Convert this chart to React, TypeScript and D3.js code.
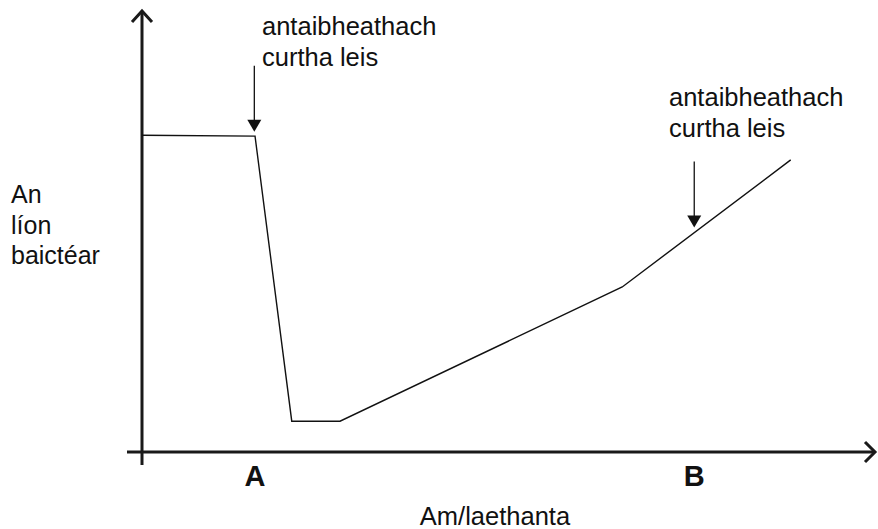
import React from "react";
import * as d3 from "d3";

const days = [0, 15.7, 20.8, 27.5, 66.7, 90.1];
const counts = [72, 71.8, 7, 7, 37.5, 66.4];
const doseDays = [15.6, 76.7];
const doseTipCounts = [72.8, 51];
const tickLabels = ["A", "B"];
const tickDays = [15.7, 76.7];
const doseLabel = ["antaibheathach", "curtha leis"];
const yLabel = ["An", "líon", "baictéar"];
const xLabel = "Am/laethanta";

const W = 878, H = 529;
const x = d3.scaleLinear().domain([0, 100]).range([142, 862]);
const y = d3.scaleLinear().domain([0, 100]).range([452, 12]);

export default function App() {
  const line = d3.line<number>().x((_, i) => x(days[i])).y((d) => y(d));
  const font = "Arial, 'Liberation Sans', Helvetica, sans-serif";
  return (
    <svg width={W} height={H} style={{ position: "absolute", left: 0, top: 0, background: "#fff" }} fontFamily={font}>
      {/* axes */}
      <line x1={x(0)} y1={465} x2={x(0)} y2={12} stroke="#1a1a1a" strokeWidth={3} />
      <polyline points={`${x(0) - 10},22 ${x(0)},11 ${x(0) + 10},22`} fill="none" stroke="#1a1a1a" strokeWidth={3} />
      <line x1={127} y1={y(0)} x2={874} y2={y(0)} stroke="#1a1a1a" strokeWidth={3} />
      <polyline points={`865,${y(0) - 10} 875,${y(0)} 865,${y(0) + 10}`} fill="none" stroke="#1a1a1a" strokeWidth={3} />
      {/* data line */}
      <path d={line(counts) || ""} fill="none" stroke="#111" strokeWidth={1.4} />
      {/* dose arrows */}
      {doseDays.map((d, i) => {
        const xx = x(d);
        const tip = y(doseTipCounts[i]);
        return (
          <g key={i}>
            <line x1={xx} y1={tip - 66} x2={xx} y2={tip - 10} stroke="#111" strokeWidth={1.3} />
            <polygon points={`${xx - 7},${tip - 12} ${xx + 7},${tip - 12} ${xx},${tip}`} fill="#111" />
          </g>
        );
      })}
      {/* dose labels */}
      {[{ lx: 262, ly: 35 }, { lx: 669, ly: 106 }].map((p, i) => (
        <text key={i} x={p.lx} y={p.ly} fontSize={25.5} fill="#111">
          {doseLabel.map((t, j) => (
            <tspan key={j} x={p.lx} dy={j === 0 ? 0 : 30.5}>{t}</tspan>
          ))}
        </text>
      ))}
      {/* y label */}
      <text x={11} y={203} fontSize={25} fill="#111">
        {yLabel.map((t, j) => (
          <tspan key={j} x={11} dy={j === 0 ? 0 : 30.5}>{t}</tspan>
        ))}
      </text>
      {/* tick labels */}
      {tickLabels.map((t, i) => (
        <text key={t} x={x(tickDays[i])} y={486} fontSize={29} fontWeight="bold" textAnchor="middle" fill="#111">{t}</text>
      ))}
      <text x={495} y={525} fontSize={25.5} textAnchor="middle" fill="#111">{xLabel}</text>
    </svg>
  );
}
